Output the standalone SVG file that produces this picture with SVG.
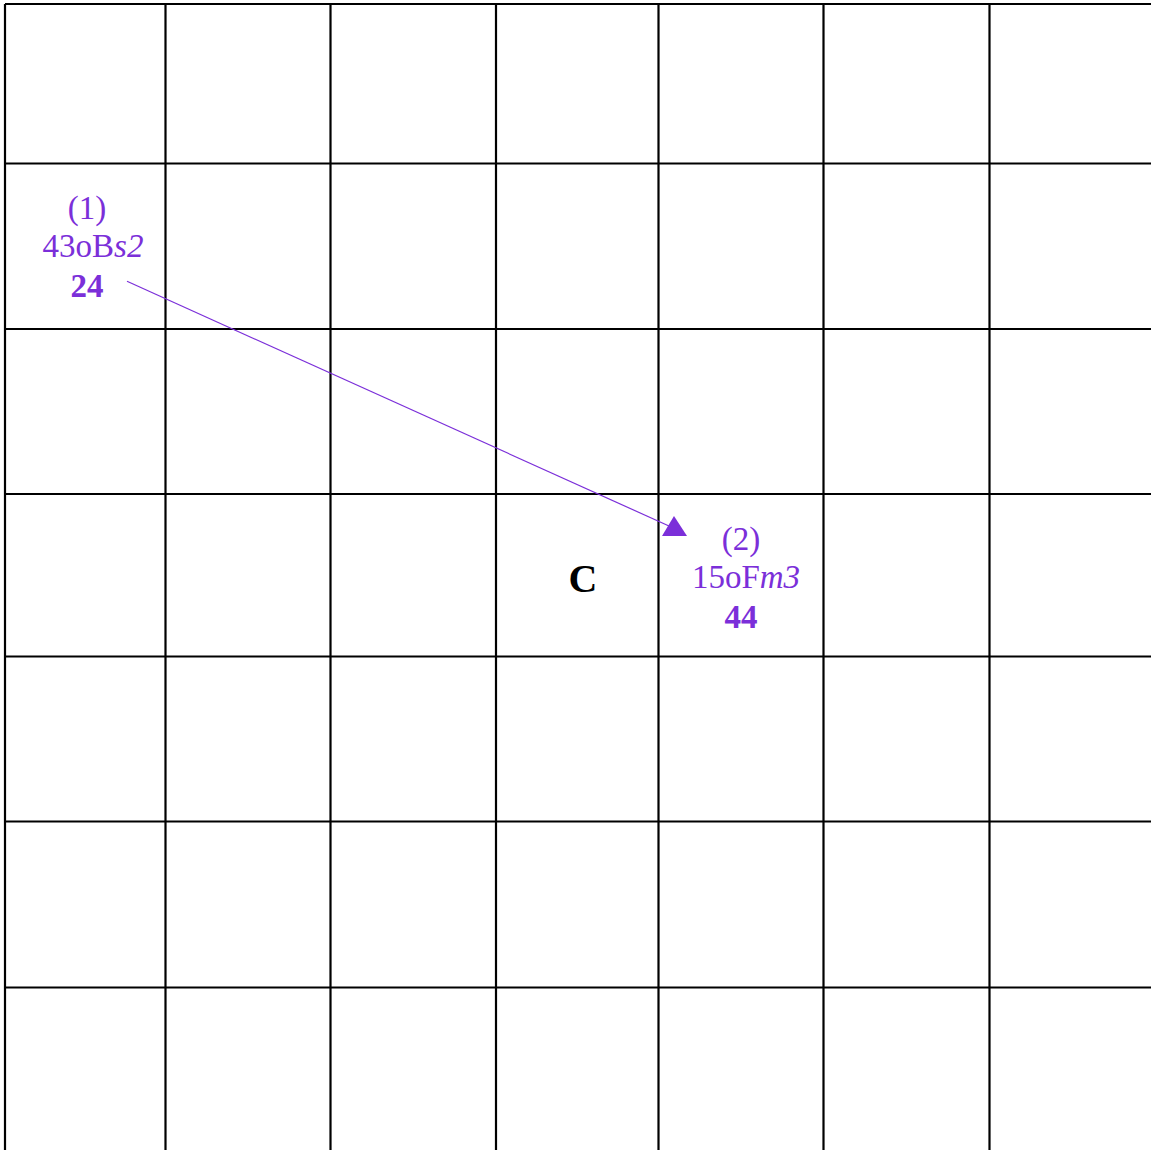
<svg xmlns="http://www.w3.org/2000/svg" width="1151" height="1150" viewBox="0 0 1151 1150">
<style>
.g{stroke:#000;stroke-width:2.2;fill:none}
.t{font-family:"Liberation Serif","DejaVu Serif",serif;fill:#7b2fd9;text-anchor:middle;font-size:33px}
.b{font-weight:bold}
.i{font-style:italic}
</style>
<rect width="1151" height="1150" fill="#fff"/>
<g id="grid" class="g">
<path d="M5,4V1150M165.5,4V1150M330.5,4V1150M496,4V1150M658.5,4V1150M823.5,4V1150M989.5,4V1150"/>
<path d="M5,4H1151M5,163.5H1151M5,329H1151M5,494H1151M5,656.5H1151M5,821.5H1151M5,987.5H1151"/>
</g>
<g id="connectors">
<line x1="127" y1="281.3" x2="669" y2="526" stroke="#7b2fd9" stroke-width="1.2"/>
<polygon points="662,536 687,536 674,516" fill="#7b2fd9"/>
</g>
<g id="node1">
<text class="t" x="87" y="219">(1)</text>
<text class="t" x="93" y="257">43oB<tspan class="i">s2</tspan></text>
<text class="t b" x="87" y="297">24</text>
</g>
<g id="node2">
<text class="t" x="741" y="550">(2)</text>
<text class="t" x="746" y="588">15oF<tspan class="i">m3</tspan></text>
<text class="t b" x="741" y="628">44</text>
</g>
<g id="nodeC">
<text x="583" y="592" font-family="Liberation Serif, DejaVu Serif, serif" font-weight="bold" font-size="40" text-anchor="middle" fill="#000">C</text>
</g>
</svg>
